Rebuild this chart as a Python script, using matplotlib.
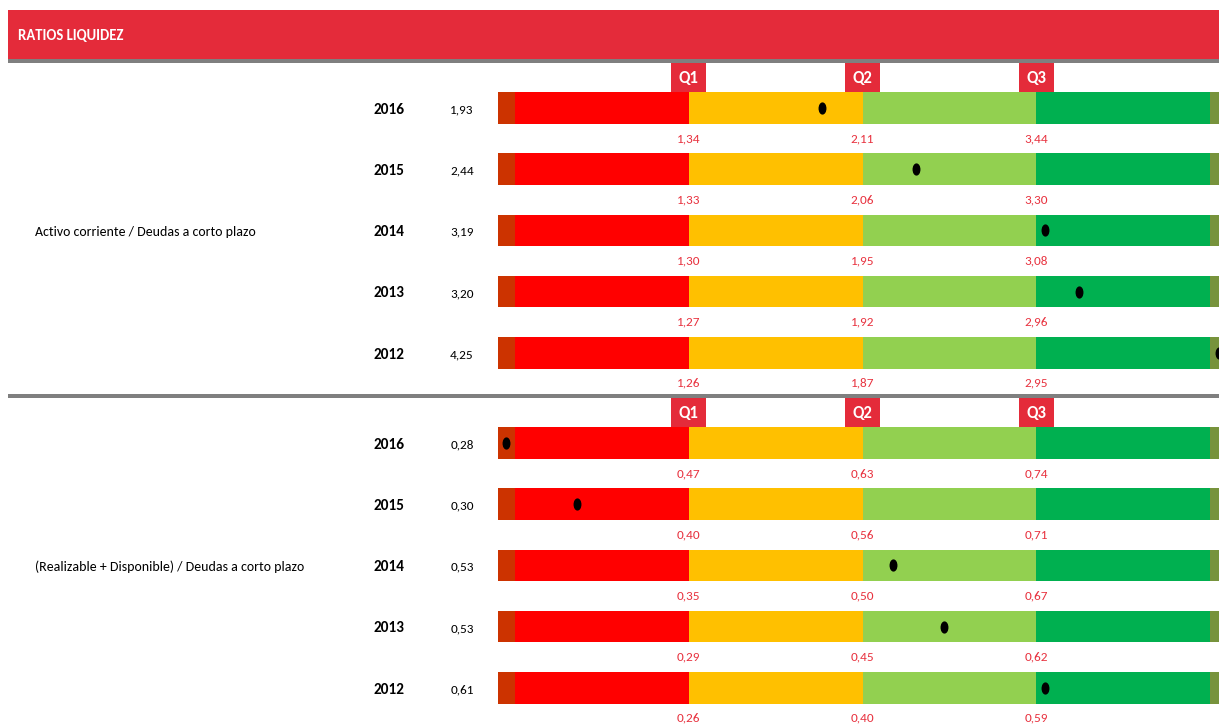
import numpy as np
import matplotlib
matplotlib.use("Agg")
import matplotlib.pyplot as plt
from matplotlib.patches import Rectangle
from matplotlib.path import Path
from matplotlib.transforms import Affine2D, blended_transform_factory
from matplotlib import font_manager

# ---------------- data ----------------
title = "RATIOS LIQUIDEZ"
years = [2016, 2015, 2014, 2013, 2012]

ratio1_name = "Activo corriente / Deudas a corto plazo"
ratio1_values = [1.93, 2.44, 3.19, 3.20, 4.25]
ratio1_q1 = [1.34, 1.33, 1.30, 1.27, 1.26]
ratio1_q2 = [2.11, 2.06, 1.95, 1.92, 1.87]
ratio1_q3 = [3.44, 3.30, 3.08, 2.96, 2.95]
ratio1_min = [0.60, 0.60, 0.55, 0.55, 0.50]   # estimated
ratio1_max = [5.90, 5.50, 5.20, 3.93, 4.10]   # estimated

ratio2_name = "(Realizable + Disponible) / Deudas a corto plazo"
ratio2_values = [0.28, 0.30, 0.53, 0.53, 0.61]
ratio2_q1 = [0.47, 0.40, 0.35, 0.29, 0.26]
ratio2_q2 = [0.63, 0.56, 0.50, 0.45, 0.40]
ratio2_q3 = [0.74, 0.71, 0.67, 0.62, 0.59]
ratio2_min = [0.30, 0.245, 0.20, 0.15, 0.12]  # estimated
ratio2_max = [0.95, 0.92, 0.90, 0.85, 0.975]  # estimated

quartile_names = ["Q1", "Q2", "Q3"]

# ---------------- style ----------------
names = {f.name for f in font_manager.fontManager.ttflist}
FONT = "Liberation Sans"
for cand in ["Carlito", "Liberation Sans Narrow", "Open Sans Condensed"]:
    if cand in names:
        FONT = cand
        break
plt.rcParams["font.family"] = [FONT, "DejaVu Sans"]

HEADER_RED = "#E42B3A"
GRAY = "#7F7F7F"
QTXT = "#E8323F"
seg_colors = ["#CC3300", "#FF0000", "#FFC000", "#92D050", "#00B050", "#77933C"]
seg_left = [-0.1, 0, 1, 2, 3, 4]
seg_width = [0.1, 1, 1, 1, 1, 0.1]

W, H = 1219, 727
fig = plt.figure(figsize=(W / 100, H / 100), dpi=100)
fig.patch.set_facecolor("white")

# background axes in pixel coordinates
bg = fig.add_axes([0, 0, 1, 1])
bg.set_xlim(0, W)
bg.set_ylim(H, 0)
bg.axis("off")

bg.add_patch(Rectangle((8, 10), W - 8, 49, facecolor=HEADER_RED, edgecolor="none"))
bg.add_patch(Rectangle((8, 59), W - 8, 4, facecolor=GRAY, edgecolor="none"))
bg.add_patch(Rectangle((8, 394), W - 8, 4, facecolor=GRAY, edgecolor="none"))
bg.text(18, 36, title, color="white", fontsize=10.5, fontweight="bold",
        ha="left", va="center")

# ellipse marker
ell = Affine2D().scale(0.6, 1.0).transform_path(Path.unit_circle())

PITCH = 61.2        # px between rows
BAR_H = 31.5 / PITCH
X0_PX = 515.0       # px of position 0
SEG_PX = 173.75     # px per unit


def draw_block(name, values, q1, q2, q3, mn, mx, top_px, bottom_px, first_center_px):
    y_top = (top_px - first_center_px) / PITCH
    y_bot = (bottom_px - first_center_px) / PITCH
    x_lo, x_hi = -0.1, 4.1
    left_px = X0_PX + x_lo * SEG_PX
    right_px = X0_PX + x_hi * SEG_PX
    ax = fig.add_axes([left_px / W, 1 - bottom_px / H,
                       (right_px - left_px) / W, (bottom_px - top_px) / H])
    ax.set_xlim(x_lo, x_hi)
    ax.set_ylim(y_bot, y_top)
    ax.axis("off")
    ax.patch.set_alpha(0)

    rows = np.arange(len(years))
    for l, w, c in zip(seg_left, seg_width, seg_colors):
        ax.barh(rows, [w] * len(rows), left=l, height=BAR_H, color=c,
                edgecolor="none", zorder=2)

    # Q boxes
    for k, qn in enumerate(quartile_names, start=1):
        ax.add_patch(Rectangle((k - 0.1, y_top), 0.2, (-BAR_H / 2) - y_top,
                               facecolor=HEADER_RED, edgecolor="none", zorder=3,
                               clip_on=False))
        ax.text(k, (y_top - BAR_H / 2) / 2, qn, color="white", fontsize=12,
                fontweight="bold", ha="center", va="center", zorder=4)

    # quartile value labels
    for i in rows:
        for k, q in enumerate([q1[i], q2[i], q3[i]], start=1):
            ax.text(k, i + 0.5, f"{q:.2f}".replace(".", ","), color=QTXT,
                    fontsize=9.5, ha="center", va="center", clip_on=False)

    # dots
    for i in rows:
        v = values[i]
        if v < mn[i]:
            p = -0.05
        elif v > mx[i]:
            p = 4.05
        else:
            p = np.interp(v, [mn[i], q1[i], q2[i], q3[i], mx[i]], [0, 1, 2, 3, 4])
        ax.plot([p], [i], marker=ell, markersize=7.8, color="black",
                linestyle="none", zorder=5, clip_on=False)

    # left texts
    tr = blended_transform_factory(bg.transData, ax.transData)
    for i in rows:
        ax.text(389, i + 0.03, str(years[i]), transform=tr, fontsize=11,
                fontweight="bold", ha="center", va="center", color="black")
        ax.text(462, i + 0.03, f"{values[i]:.2f}".replace(".", ","), transform=tr,
                fontsize=9.5, ha="center", va="center", color="black")
    ax.text(35, 2.02, name, transform=tr, fontsize=10, ha="left", va="center",
            color="black")


draw_block(ratio1_name, ratio1_values, ratio1_q1, ratio1_q2, ratio1_q3,
           ratio1_min, ratio1_max, 63, 394, 108)
draw_block(ratio2_name, ratio2_values, ratio2_q1, ratio2_q2, ratio2_q3,
           ratio2_min, ratio2_max, 398, 727, 443)

fig.savefig("out.png", dpi=100, facecolor="white")
